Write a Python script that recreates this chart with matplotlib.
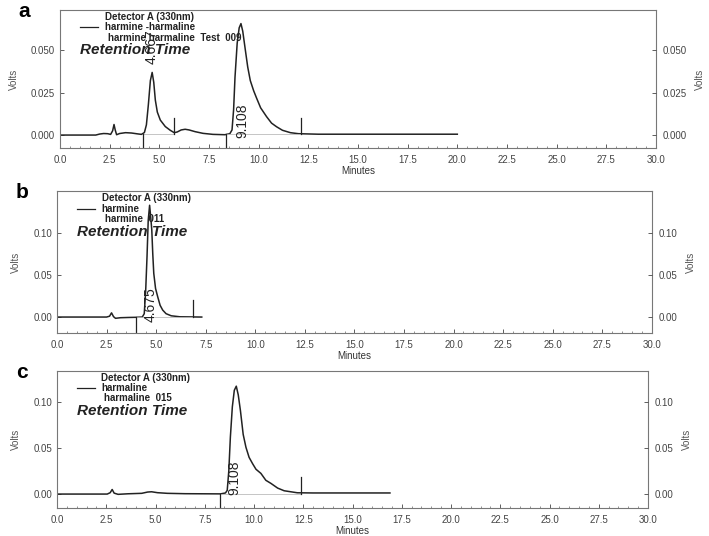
import numpy as np
import matplotlib.pyplot as plt
from matplotlib.ticker import MultipleLocator, FormatStrFormatter

plt.rcParams['font.family'] = ['Liberation Sans', 'DejaVu Sans']

# ---- trace a: harmine + harmaline (Test 009)
t_a = [0.0, 1.8, 2.0, 2.2, 2.4, 2.55, 2.65, 2.72, 2.78, 2.85, 3.0, 3.3, 3.6, 3.9, 4.1,
       4.25, 4.35, 4.45, 4.55, 4.64, 4.72, 4.80, 4.90, 5.05, 5.3, 5.55, 5.75, 5.9, 6.1,
       6.3, 6.5, 6.8, 7.2, 7.7, 8.3, 8.55, 8.66, 8.74, 8.81, 8.92, 9.02, 9.11, 9.2,
       9.33, 9.45, 9.58, 9.75, 9.9, 10.1, 10.4, 10.65, 10.9, 11.2, 11.6, 12.0, 13.0, 20.0]
v_a = [0.0, 0.0, 0.0006, 0.0009, 0.0008, 0.0004, 0.0025, 0.0062, 0.003, 0.0002, 0.0009,
       0.0014, 0.0012, 0.0007, 0.0004, 0.0015, 0.006, 0.018, 0.032, 0.0368, 0.031, 0.0205,
       0.0135, 0.0088, 0.005, 0.0028, 0.0014, 0.0018, 0.003, 0.0034, 0.003, 0.002, 0.001,
       0.0004, 0.0002, 0.0008, 0.003, 0.015, 0.034, 0.054, 0.063, 0.0655, 0.061, 0.05,
       0.04, 0.032, 0.026, 0.0216, 0.016, 0.0108, 0.007, 0.0049, 0.0028, 0.0014, 0.0008,
       0.0005, 0.0005]

# ---- trace b: harmine 011
t_b = [0.0, 2.5, 2.65, 2.75, 2.85, 2.95, 3.2, 3.6, 4.0, 4.3, 4.4, 4.47, 4.54, 4.60, 4.67,
       4.73, 4.78, 4.83, 4.88, 4.97, 5.08, 5.2, 5.33, 5.5, 5.76, 6.2, 7.3]
v_b = [0.0, 0.0, 0.001, 0.005, 0.0005, -0.0015, -0.0008, -0.0005, -0.0003, 0.0, 0.004,
       0.03, 0.072, 0.115, 0.133, 0.118, 0.1036, 0.075, 0.052, 0.034, 0.024, 0.014,
       0.0083, 0.004, 0.0015, 0.0003, 0.0]

# ---- trace c: harmaline 015
t_c = [0.0, 2.55, 2.7, 2.8, 2.9, 3.1, 3.6, 4.3, 4.6, 4.8, 5.1, 5.6, 6.5, 8.3, 8.55, 8.64,
       8.72, 8.80, 8.9, 9.0, 9.1, 9.2, 9.31, 9.45, 9.59, 9.75, 9.93, 10.1, 10.35, 10.6,
       10.86, 11.2, 11.53, 12.2, 13.0, 16.9]
v_c = [0.0, 0.0, 0.0015, 0.005, 0.001, -0.0003, 0.0003, 0.0008, 0.0022, 0.0025, 0.0015,
       0.0008, 0.0004, 0.0002, 0.0012, 0.004, 0.025, 0.062, 0.095, 0.113, 0.1175, 0.108,
       0.091, 0.065, 0.051, 0.04, 0.033, 0.027, 0.0225, 0.015, 0.0116, 0.0065, 0.0036,
       0.0014, 0.0012, 0.0012]

# integration marks (time, direction) and retention time labels
marks_a = [(4.16, -1), (5.72, 1), (8.35, -1), (12.12, 1)]
marks_b = [(3.99, -1), (6.86, 1)]
marks_c = [(8.28, -1), (12.37, 1)]
rt_a = [("4.667", 4.62, 0.042), ("9.108", 9.2, -0.0018)]
rt_b = [("4.675", 4.70, -0.0056)]
rt_c = [("9.108", 9.02, -0.001)]

panels = [
    dict(pos=[0.0846, 0.7239, 0.8406, 0.2575], t=t_a, v=v_a, ylim=(-0.0076, 0.0735),
         yt=[0.0, 0.025, 0.05], fmt='%.3f', marks=marks_a, rt=rt_a, letter='a',
         name='harmine -harmaline', sub='harmine harmaline  Test  009', base=[(4.16, 5.72), (8.35, 12.12)]),
    dict(pos=[0.0804, 0.3787, 0.8390, 0.2650], t=t_b, v=v_b, ylim=(-0.019, 0.150),
         yt=[0.0, 0.05, 0.10], fmt='%.2f', marks=marks_b, rt=rt_b, letter='b',
         name='harmine', sub='harmine  011', base=[(3.99, 6.86)]),
    dict(pos=[0.0804, 0.0522, 0.8336, 0.2556], t=t_c, v=v_c, ylim=(-0.0152, 0.134),
         yt=[0.0, 0.05, 0.10], fmt='%.2f', marks=marks_c, rt=rt_c, letter='c',
         name='harmaline', sub='harmaline  015', base=[(8.28, 12.37)]),
]

fig = plt.figure(figsize=(7.09, 5.36), dpi=100)

for p in panels:
    ax = fig.add_axes(p['pos'])
    ax.plot(p['t'], p['v'], color='#222222', lw=1.1)
    ax.set_xlim(0, 30)
    ax.set_ylim(*p['ylim'])
    span = p['ylim'][1] - p['ylim'][0]
    for (t0, t1) in p['base']:
        ax.plot([t0, t1], [0.0005, 0.0005], color='#bbbbbb', lw=0.6)
    for (tm, d) in p['marks']:
        ax.plot([tm, tm], [0.0005, 0.0005 + d * span * 0.12], color='#222222', lw=0.9)
    for (txt, tx, ty) in p['rt']:
        ax.text(tx, ty, txt, rotation=90, ha='center', va='bottom', fontsize=10, color='#222222')

    ax.set_yticks(p['yt'])
    ax.yaxis.set_major_formatter(FormatStrFormatter(p['fmt']))
    ax.xaxis.set_major_locator(MultipleLocator(2.5))
    ax.xaxis.set_minor_locator(MultipleLocator(0.5))
    ax.xaxis.set_major_formatter(FormatStrFormatter('%.1f'))
    ax.tick_params(labelsize=7, colors='#444444', length=3, width=0.6, direction='in')
    ax.tick_params(axis='x', pad=5)
    ax.tick_params(which='minor', length=1.5, width=0.5, direction='in', colors='#666666')
    for s in ax.spines.values():
        s.set_color('#777777')
        s.set_linewidth(0.8)
    ax.set_xlabel('Minutes', fontsize=7, color='#333333', labelpad=0.5)
    ax.set_ylabel('Volts', fontsize=7, color='#555555', labelpad=9)

    axr = ax.twinx()
    axr.set_ylim(*p['ylim'])
    axr.set_yticks(p['yt'])
    axr.yaxis.set_major_formatter(FormatStrFormatter(p['fmt']))
    axr.tick_params(labelsize=7, colors='#444444', length=3, width=0.6, direction='in', pad=5)
    axr.set_ylabel('Volts', fontsize=7, color='#555555', labelpad=6)
    for s in axr.spines.values():
        s.set_visible(False)

    # legend block
    ax.text(0.075, 0.95, 'Detector A (330nm)', transform=ax.transAxes, fontsize=7,
            fontweight='bold', color='#222222', va='center')
    ax.plot([0.034, 0.064], [0.875, 0.875], transform=ax.transAxes, color='#222222', lw=0.9)
    ax.text(0.075, 0.875, p['name'], transform=ax.transAxes, fontsize=7,
            fontweight='bold', color='#222222', va='center')
    ax.text(0.08, 0.80, p['sub'], transform=ax.transAxes, fontsize=7,
            fontweight='bold', color='#222222', va='center')
    ax.text(0.033, 0.71, 'Retention Time', transform=ax.transAxes, fontsize=11,
            fontweight='bold', fontstyle='italic', color='#222222', va='center')

    fig.text(p['pos'][0] - 0.058, p['pos'][1] + p['pos'][3] - 0.002, p['letter'],
             fontsize=15, fontweight='bold', va='center', ha='left')

fig.savefig('out.png', dpi=100)
